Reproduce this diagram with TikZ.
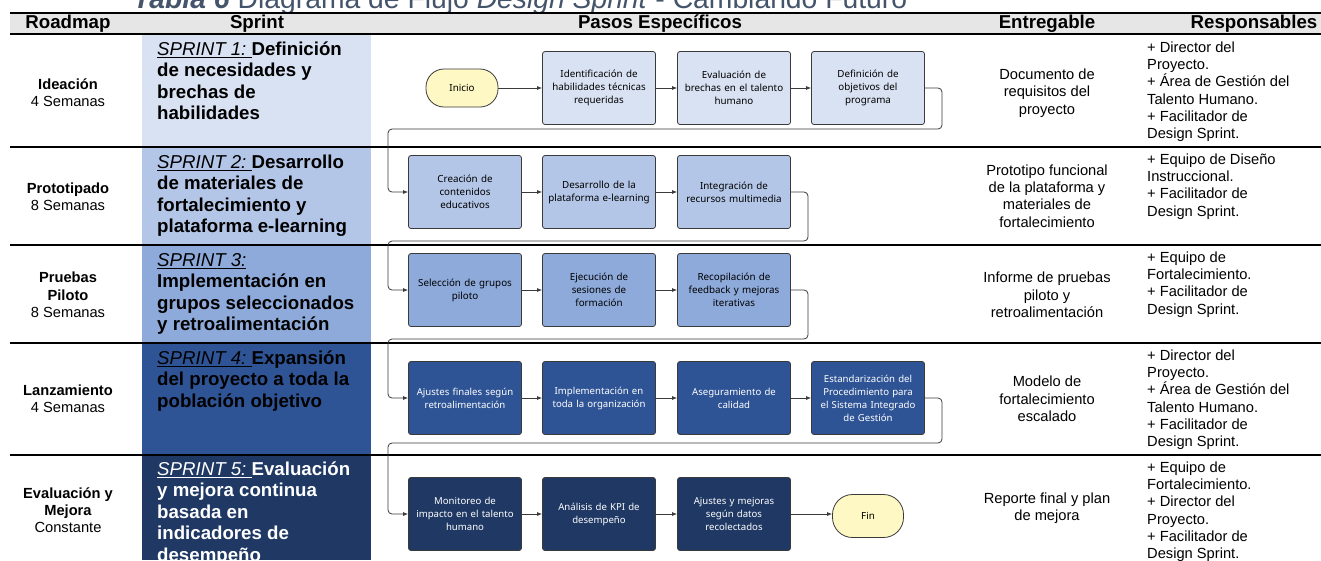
\documentclass[tikz,border=0pt]{standalone}
\usepackage{fontspec}
\setmainfont{Liberation Sans}
\newfontfamily\boxfont{Noto Sans}
\usetikzlibrary{arrows.meta}
\definecolor{cA}{HTML}{D9E2F3}
\definecolor{cB}{HTML}{B4C6E7}
\definecolor{cC}{HTML}{8EAADB}
\definecolor{cD}{HTML}{2F5496}
\definecolor{cE}{HTML}{1F3864}
\definecolor{headgray}{HTML}{E7E6E6}
\definecolor{boxline}{HTML}{3A3A3A}
\definecolor{termfill}{HTML}{FDF8C4}
\definecolor{titlecol}{HTML}{44546A}
\newcommand\sprintlbl[1]{\underline{\mdseries\itshape #1}}
\newcommand\topS{\rule{0pt}{18pt}}
\newcommand\topR{\rule{0pt}{14pt}}
\tikzset{
  headtxt/.style={font=\fontsize{18.67}{21}\selectfont\bfseries, inner sep=0pt},
  sprinttxt/.style={anchor=north west, align=left, inner sep=0pt, font=\fontsize{18.67}{21.5}\selectfont\bfseries},
  roadtxt/.style={align=center, inner sep=0pt, font=\fontsize{14.67}{17.3}\selectfont},
  entrtxt/.style={align=center, inner sep=0pt, font=\fontsize{14.67}{17.3}\selectfont},
  resptxt/.style={anchor=north west, align=left, inner sep=0pt, font=\fontsize{14.67}{17.3}\selectfont},
  flowbox/.style={draw=boxline, line width=0.8pt, rounded corners=2.5pt, minimum width=113pt, minimum height=73pt, text width=108pt, align=center, inner sep=0pt, font=\boxfont\fontsize{9.8}{13}\selectfont},
  boxA/.style={flowbox, fill=cA},
  boxB/.style={flowbox, fill=cB},
  boxC/.style={flowbox, fill=cC},
  boxD/.style={flowbox, fill=cD, text=white, font=\boxfont\bfseries\fontsize{9.6}{13}\selectfont},
  boxE/.style={flowbox, fill=cE, text=white, font=\boxfont\bfseries\fontsize{9.6}{13}\selectfont},
  term/.style={draw=boxline, line width=0.8pt, fill=termfill, rounded corners=18pt, minimum width=72pt, minimum height=38pt, inner sep=0pt, font=\boxfont\fontsize{9.8}{13}\selectfont},
  conn/.style={draw=boxline, line width=0.8pt, -{Latex[length=5pt,width=4pt]}},
  loopc/.style={conn, rounded corners=4pt},
  sep/.style={line width=2.5pt, black},
}
\begin{document}
\begin{tikzpicture}[x=1pt,y=-1pt]
\useasboundingbox (0,0) rectangle (1321,560);
\clip (0,0) rectangle (1321,560);
\fill[white] (0,0) rectangle (1321,560);
% title
\node[anchor=base west, inner sep=0pt, text=titlecol, font=\fontsize{28.3}{32}\selectfont] (title) at (133,8.5)
  {\textbf{\textit{Tabla 6}} Diagrama de Flujo \textit{Design Sprint} - Cambiando Futuro};
% header band
\fill[headgray] (10,13) rectangle (1321,34);
% sprint column backgrounds
\fill[cA] (142,34) rectangle (371,147);
\fill[cB] (142,147) rectangle (371,245);
\fill[cC] (142,245) rectangle (371,343);
\fill[cD] (142,343) rectangle (371,455);
\fill[cE] (142,455) rectangle (371,560);
% separators
\foreach \yy in {13,34,147,245,343,455} { \draw[sep] (10,\yy) -- (1321,\yy); }
% header texts
\node[headtxt] (h1) at (68,24) {Roadmap};
\node[headtxt] (h2) at (257,24) {Sprint};
\node[headtxt] (h3) at (660,24) {Pasos Específicos};
\node[headtxt] (h4) at (1047,24) {Entregable};
\node[headtxt] (h5) at (1254,24) {Responsables};
% roadmap
\node[roadtxt] (r1) at (68,93) {\textbf{Ideación}\\4 Semanas};
\node[roadtxt] (r2) at (68,197) {\textbf{Prototipado}\\8 Semanas};
\node[roadtxt] (r3) at (68,295) {\textbf{Pruebas}\\\textbf{Piloto}\\8 Semanas};
\node[roadtxt] (r4) at (68,399) {\textbf{Lanzamiento}\\4 Semanas};
\node[roadtxt] (r5) at (68,510) {\textbf{Evaluación y}\\\textbf{Mejora}\\Constante};
% sprint texts
\node[sprinttxt] (s1) at (157,37) {\topS\sprintlbl{SPRINT 1:\ }Definición\\de necesidades y\\brechas de\\habilidades};
\node[sprinttxt] (s2) at (157,150) {\topS\sprintlbl{SPRINT 2:\ }Desarrollo\\de materiales de\\fortalecimiento y\\plataforma e-learning};
\node[sprinttxt] (s3) at (157,248) {\topS\sprintlbl{SPRINT 3:}\\Implementación en\\grupos seleccionados\\y retroalimentación};
\node[sprinttxt] (s4) at (157,346) {\topS\sprintlbl{SPRINT 4:\ }Expansión\\del proyecto a toda la\\población objetivo};
\node[sprinttxt, text=white] (s5) at (157,457) {\topS\sprintlbl{SPRINT 5:\ }Evaluación\\y mejora continua\\basada en\\indicadores de\\desempeño};
% entregables
\node[entrtxt] (e1) at (1047,93) {Documento de\\requisitos del\\proyecto};
\node[entrtxt] (e2) at (1047,196) {Prototipo funcional\\de la plataforma y\\materiales de\\fortalecimiento};
\node[entrtxt] (e3) at (1047,295) {Informe de pruebas\\piloto y\\retroalimentación};
\node[entrtxt] (e4) at (1047,399) {Modelo de\\fortalecimiento\\escalado};
\node[entrtxt] (e5) at (1047,508) {Reporte final y plan\\de mejora};
% responsables
\node[resptxt] (p1) at (1147,38) {\topR+ Director del\\Proyecto.\\+ Área de Gestión del\\Talento Humano.\\+ Facilitador de\\Design Sprint.};
\node[resptxt] (p2) at (1147,150) {\topR+ Equipo de Diseño\\Instruccional.\\+ Facilitador de\\Design Sprint.};
\node[resptxt] (p3) at (1147,248) {\topR+ Equipo de\\Fortalecimiento.\\+ Facilitador de\\Design Sprint.};
\node[resptxt] (p4) at (1147,346) {\topR+ Director del\\Proyecto.\\+ Área de Gestión del\\Talento Humano.\\+ Facilitador de\\Design Sprint.};
\node[resptxt] (p5) at (1147,458) {\topR+ Equipo de\\Fortalecimiento.\\+ Director del\\Proyecto.\\+ Facilitador de\\Design Sprint.};
% flow row 1
\node[term] (ini) at (462,88) {Inicio};
\node[boxA] (b12) at (599,88) {Identificación de\\habilidades técnicas\\requeridas};
\node[boxA] (b13) at (734,88) {Evaluación de\\brechas en el talento\\humano};
\node[boxA] (b14) at (868,88) {Definición de\\objetivos del\\programa};
% flow row 2
\node[boxB] (b21) at (465,192) {Creación de\\contenidos\\educativos};
\node[boxB] (b22) at (599,192) {Desarrollo de la\\plataforma e-learning};
\node[boxB] (b23) at (734,192) {Integración de\\recursos multimedia};
% flow row 3
\node[boxC] (b31) at (465,290) {Selección de grupos\\piloto};
\node[boxC] (b32) at (599,290) {Ejecución de\\sesiones de\\formación};
\node[boxC] (b33) at (734,290) {Recopilación de\\feedback y mejoras\\iterativas};
% flow row 4
\node[boxD] (b41) at (465,398) {Ajustes finales según\\retroalimentación};
\node[boxD] (b42) at (599,398) {Implementación en\\toda la organización};
\node[boxD] (b43) at (734,398) {Aseguramiento de\\calidad};
\node[boxD] (b44) at (868,398) {Estandarización del\\Procedimiento para\\el Sistema Integrado\\de Gestión};
% flow row 5
\node[boxE] (b51) at (465,514) {Monitoreo de\\impacto en el talento\\humano};
\node[boxE] (b52) at (599,514) {Análisis de KPI de\\desempeño};
\node[boxE] (b53) at (734,514) {Ajustes y mejoras\\según datos\\recolectados};
\node[term, minimum height=43pt, minimum width=71pt, rounded corners=20pt] (fin) at (868,516) {Fin};
% connectors
\draw[conn] (ini) -- (b12);
\draw[conn] (b12) -- (b13);
\draw[conn] (b13) -- (b14);
\draw[conn] (b21) -- (b22);
\draw[conn] (b22) -- (b23);
\draw[conn] (b31) -- (b32);
\draw[conn] (b32) -- (b33);
\draw[conn] (b41) -- (b42);
\draw[conn] (b42) -- (b43);
\draw[conn] (b43) -- (b44);
\draw[conn] (b51) -- (b52);
\draw[conn] (b52) -- (b53);
\draw[conn] (b53.east) -- (fin.west |- b53.east);
\coordinate (l1a) at (942,129); \coordinate (l1b) at (388,129);
\coordinate (l2a) at (808,241); \coordinate (l2b) at (388,241);
\coordinate (l3a) at (808,339); \coordinate (l3b) at (388,339);
\coordinate (l4a) at (942,443); \coordinate (l4b) at (388,443);
\draw[loopc] (b14.east) -| (l1a) -- (l1b) |- (b21.west);
\draw[loopc] (b23.east) -| (l2a) -- (l2b) |- (b31.west);
\draw[loopc] (b33.east) -| (l3a) -- (l3b) |- (b41.west);
\draw[loopc] (b44.east) -| (l4a) -- (l4b) |- (b51.west);
\end{tikzpicture}
\end{document}
